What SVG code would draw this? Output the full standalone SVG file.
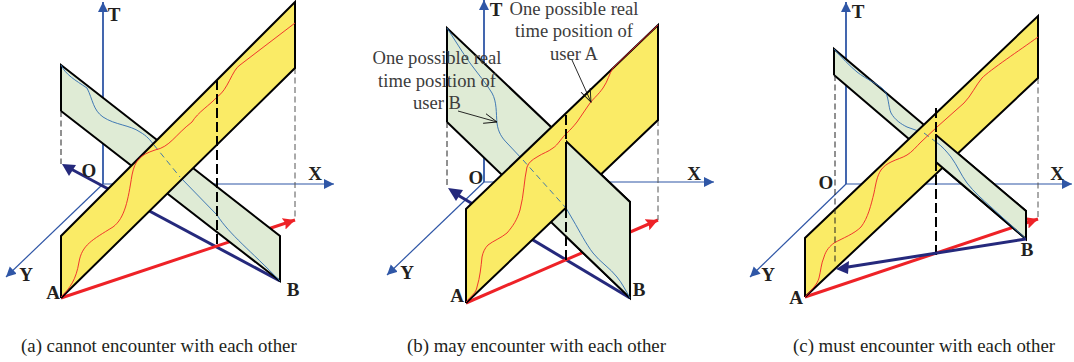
<svg xmlns="http://www.w3.org/2000/svg" width="1074" height="362" viewBox="0 0 1074 362">
<style>
text{font-family:"Liberation Serif","Times New Roman",serif}
.l{font-size:19px;font-weight:bold;fill:#231f20;text-anchor:middle}
.n{font-size:18.6px;fill:#3c3c3c;text-anchor:middle}
.c{font-size:18.85px;fill:#231f20}
.ax{fill:none;stroke:#2f56a6;stroke-width:1.2;marker-end:url(#ah)}
.axt{fill:none;stroke:#2f56a6;stroke-width:1.8;marker-end:url(#ah)}
.y{fill:#faeb66;stroke:none}
.g{fill:#dfebd5;stroke:none}
.e{fill:none;stroke:#000;stroke-width:2;stroke-linejoin:miter}
.s{fill:none;stroke:#000;stroke-width:2}
.r{fill:none;stroke:#ee2227;stroke-width:.9}
.b{fill:none;stroke:#2f6cb0;stroke-width:.9}
.bd{fill:none;stroke:#2f6cb0;stroke-width:.9;stroke-dasharray:6 4}
.rv{fill:none;stroke:#ee2227;stroke-width:3;marker-end:url(#ar)}
.bv{fill:none;stroke:#25297c;stroke-width:3}
.bh{fill:#25297c}
.d{fill:none;stroke:#222;stroke-width:1;stroke-dasharray:6 3.5}
.dg{fill:none;stroke:#555;stroke-width:1;stroke-dasharray:6 3.5}
.dk{fill:none;stroke:#000;stroke-width:2;stroke-dasharray:10 4}
.p{fill:none;stroke:#111;stroke-width:.9;marker-end:url(#op)}
</style>
<defs>
<marker id="ah" markerUnits="userSpaceOnUse" markerWidth="12" markerHeight="12" refX="10" refY="5" orient="auto"><path d="M0 0L10 5L0 10Z" fill="#2f56a6"/></marker>
<marker id="ar" markerUnits="userSpaceOnUse" markerWidth="14" markerHeight="14" refX="12" refY="6" orient="auto"><path d="M0 0L12 6L0 12L2 6Z" fill="#ee2227"/></marker>
<marker id="op" markerUnits="userSpaceOnUse" markerWidth="14" markerHeight="12" refX="13" refY="6" orient="auto"><path d="M0 1L13 6L0 11" fill="none" stroke="#111" stroke-width=".9"/></marker>
<clipPath id="cb"><rect x="566" y="0" width="100" height="320"/></clipPath>
<clipPath id="cc"><rect x="936" y="0" width="100" height="320"/></clipPath>
</defs>

<g id="panel-a">
<path class="axt" d="M103 184V2"/>
<path class="ax" d="M103 184H334"/>
<path class="ax" d="M103 184L6 277"/>
<path class="bv" d="M280 281L71 169"/>
<path class="bh" d="M62 164L76 165L69 176Z"/>
<path class="rv" d="M61 298L295 220"/>
<path class="d" d="M61 111V164"/>
<path class="dg" d="M295 68V220"/>
<path class="g" d="M61 65L280 236V281L61 111Z"/>
<path class="e" d="M61 111V65L280 236V281L61 111"/>
<path class="b" d="M61 65C66 75,75 80,87 88C93 100,93 110,103 117C115 125,130 125,140 132C147 136,150 140,154 145"/>
<path class="b" d="M180 177L217 215C230 235,250 250,280 281"/>
<path class="y" d="M61 236L295 2V68L61 298Z"/>
<path class="e" d="M61 298V236L295 2V68L61 298"/>
<path class="bd" d="M154 145L180 177"/>
<path class="r" d="M61 297C70 288,76 280,79 262C82 245,92 240,113 227C125 218,128 200,132 175C135 160,140 155,155 150C170 147,175 135,192 122C198 112,210 105,217 97C228 90,232 70,240 65L295 23"/>
<path class="dk" d="M217 80V247"/>
<text class="l" x="114" y="21">T</text><text class="l" x="89" y="177">O</text><text class="l" x="315" y="180">X</text><text class="l" x="26" y="281">Y</text><text class="l" x="53" y="299">A</text><text class="l" x="293" y="296">B</text>
</g>

<g id="panel-b">
<path class="axt" d="M484 182V0"/>
<path class="ax" d="M484 182H714"/>
<path class="ax" d="M484 182L387 275"/>
<path class="bv" d="M630 298L456 194"/>
<path class="bh" d="M448 188L463 190L456 201Z"/>
<path class="rv" d="M466 303L658 220"/>
<path class="d" d="M447 122V188"/>
<path class="dg" d="M658 120V220"/>
<path class="g" d="M447 28L630 202V298L447 122Z"/>
<path class="e" d="M447 122V28L630 202V298L447 122"/>
<path class="b" d="M447 28C455 40,462 52,470 63C478 74,486 83,492 93C497 102,496 113,497 123C498 132,502 138,507 143L523 160"/>
<path class="y" d="M466 209L658 25V120L466 303Z"/>
<path class="e" d="M466 303V209L658 25V120L466 303"/>
<g clip-path="url(#cb)">
<path class="g" d="M447 28L630 202V298L447 122Z"/>
<path class="e" d="M447 28L630 202V298L447 122"/>
</g>
<path class="bd" d="M523 160L566 208"/>
<path class="b" d="M566 208L573 220C580 232,586 244,593 253C600 262,610 268,617 277C622 283,626 291,630 298"/>
<path class="r" d="M466 302C472 295,476 293,477 287C480 277,481 267,482 257C483 252,485 248,488 245C493 241,501 238,507 233C513 226,517 220,520 210C524 195,524 180,527 167C529 162,532 160,537 157C543 153,548 152,553 148C558 145,562 137,567 133C571 129,573 127,577 122L590 103C595 97,598 95,603 88C608 81,609 74,613 68L658 25"/>
<path class="dk" d="M566 115V142"/>
<path class="s" d="M566 142V208"/>
<path class="dk" d="M566 208V260"/>
<path class="p" d="M458 111L497 122"/>
<path class="p" d="M572 60L591 102"/>
<text class="l" x="496" y="16">T</text><text class="l" x="476" y="184">O</text><text class="l" x="694" y="180">X</text><text class="l" x="407" y="279">Y</text><text class="l" x="457" y="302">A</text><text class="l" x="639" y="296">B</text>
<text class="n"><tspan x="574" y="15">One possible real</tspan><tspan x="574" y="37">time position of</tspan><tspan x="574" y="60">user A</tspan></text>
<text class="n"><tspan x="437" y="64">One possible real</tspan><tspan x="437" y="87">time position of</tspan><tspan x="437" y="109">user B</tspan></text>
</g>

<g id="panel-c">
<path class="axt" d="M846 184V2"/>
<path class="ax" d="M846 184H1072"/>
<path class="ax" d="M846 184L750 277"/>
<path class="rv" d="M805 297L1038 219"/>
<path class="dg" d="M1038 78V219"/>
<path class="g" d="M834 49L1026 211V239L834 75Z"/>
<path class="e" d="M834 75V49L1026 211V239L834 75"/>
<path class="b" d="M834 49C842 58,850 66,857 72C866 79,878 84,884 90C889 96,888 106,891 113C895 120,901 124,907 127L924 133"/>
<path class="y" d="M805 238L1038 16V78L805 297Z"/>
<path class="e" d="M805 297V238L1038 16V78L805 297"/>
<g clip-path="url(#cc)">
<path class="g" d="M834 49L1026 211V239L834 75Z"/>
<path class="e" d="M834 49L1026 211V239L834 75"/>
</g>
<path class="bd" d="M924 133L936 142"/>
<path class="b" d="M936 142C942 146,947 152,951 157C957 165,961 175,967 183C974 192,982 199,991 207L1026 239"/>
<path class="r" d="M805 297C812 289,817 285,819 278C821 270,821 264,824 257C826 250,830 246,834 243C843 238,854 234,861 227C868 218,871 205,874 193C876 183,877 176,881 170C884 166,887 164,891 162C897 159,902 158,907 155C912 152,916 147,921 142C926 137,932 132,937 127L964 103C971 96,976 85,982 78C990 70,1020 50,1038 37"/>
<path class="dk" d="M936 108V134"/>
<path class="s" d="M936 134V161"/>
<path class="dk" d="M936 161V255"/>
<path class="d" d="M835 75V265"/>
<path class="bv" d="M1026 239L848 267"/>
<path class="bh" d="M836 269L849 261L848 274Z"/>
<text class="l" x="858" y="18">T</text><text class="l" x="826" y="189">O</text><text class="l" x="1057" y="180">X</text><text class="l" x="768" y="281">Y</text><text class="l" x="796" y="304">A</text><text class="l" x="1027" y="256">B</text>
</g>

<g id="captions">
<text class="c" x="21" y="352">(a) cannot encounter with each other</text>
<text class="c" x="407" y="352">(b) may encounter with each other</text>
<text class="c" x="793" y="352">(c) must encounter with each other</text>
</g>
</svg>
